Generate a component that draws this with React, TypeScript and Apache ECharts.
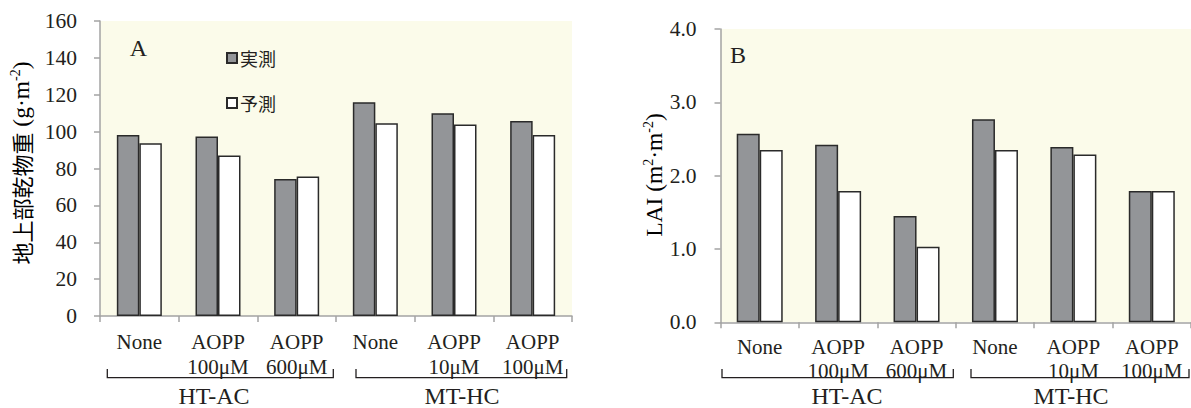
import { useEffect, useRef } from 'react';
import * as echarts from 'echarts';

const categories = ['None', 'AOPP\n100μM', 'AOPP\n600μM', 'None', 'AOPP\n10μM', 'AOPP\n100μM'];
const groupLabels = ['HT-AC', 'MT-HC'];
const seriesNames = ['実測', '予測'];
const dryMatterMeasured = [98.2, 97.3, 74.3, 115.9, 109.9, 105.8];
const dryMatterPredicted = [93.7, 87.1, 75.6, 104.5, 103.9, 98.2];
const laiMeasured = [2.57, 2.42, 1.45, 2.77, 2.39, 1.79];
const laiPredicted = [2.35, 1.79, 1.03, 2.35, 2.29, 1.79];

const SERIF = 'Liberation Serif';
const CJK = 'Noto Sans CJK JP';
const TXT = '#231f20';
const AXIS = '#a3a3a3';
const BG = '#fbfbea';
const GRAY = '#939598';
const EDGE = '#2a2a2a';

const titleRich = {
  c: { fontFamily: CJK, fontSize: 22, lineHeight: 26, color: TXT },
  l: { fontFamily: SERIF, fontSize: 23.5, lineHeight: 26, color: TXT },
  s: { fontFamily: SERIF, fontSize: 14, lineHeight: 15, verticalAlign: 'top', color: TXT },
};

function bracket(x1: number, x2: number) {
  return {
    type: 'polyline',
    shape: { points: [[x1, 369], [x1, 377.7], [x2, 377.7], [x2, 369]] },
    style: { stroke: TXT, lineWidth: 1.3, fill: null },
    silent: true,
  };
}

function label(text: string, x: number, y: number, size = 23) {
  return {
    type: 'text',
    x,
    y,
    style: { text, fontFamily: SERIF, fontSize: size, fill: TXT, align: 'center', verticalAlign: 'middle' },
    silent: true,
  };
}

function xAxisDef(gridIndex: number, margin: number, lineHeight: number) {
  return {
    type: 'category',
    gridIndex,
    data: categories,
    axisLine: { lineStyle: { color: AXIS, width: 1.5 } },
    axisTick: { show: true, length: 6, lineStyle: { color: AXIS, width: 1.5 } },
    axisLabel: { color: TXT, fontFamily: SERIF, fontSize: 21, lineHeight, margin, interval: 0 },
    splitLine: { show: false },
  };
}

function yAxisDef(gridIndex: number, min: number, max: number, interval: number, margin: number, decimals: number) {
  return {
    type: 'value',
    gridIndex,
    min,
    max,
    interval,
    axisLine: { show: true, lineStyle: { color: AXIS, width: 1.5 } },
    axisTick: { show: true, length: 6, lineStyle: { color: AXIS, width: 1.5 } },
    splitLine: { show: false },
    axisLabel: {
      show: true,
      color: TXT,
      fontFamily: SERIF,
      fontSize: 21.5,
      margin,
      formatter: (v: number) => v.toFixed(decimals),
    },
  };
}

export default function App() {
  const ref = useRef<HTMLDivElement>(null);
  useEffect(() => {
    if (!ref.current) return;
    const chart = echarts.init(ref.current, undefined, { renderer: 'svg' });
    const barStyle = (fill: string) => ({ color: fill, borderColor: EDGE, borderWidth: 1.5 });
    chart.setOption({
      animation: false,
      backgroundColor: '#ffffff',
      grid: [
        { left: 100, top: 21, width: 472, height: 295, show: true, backgroundColor: BG, borderWidth: 0 },
        { left: 720.5, top: 29, width: 473.5, height: 293.3, show: true, backgroundColor: BG, borderWidth: 0 },
      ],
      legend: {
        data: seriesNames,
        orient: 'vertical',
        left: 221,
        top: 43,
        itemWidth: 10,
        itemHeight: 10,
        itemGap: 25,
        icon: 'rect',
        textStyle: { fontFamily: CJK, fontSize: 18, lineHeight: 20, color: TXT, padding: [0, 0, 0, -2] },
      },
      xAxis: [xAxisDef(0, 13, 25.6), xAxisDef(1, 12.5, 24)],
      yAxis: [yAxisDef(0, 0, 160, 20, 23, 0), yAxisDef(1, 0, 4, 1, 24, 1)],
      series: [
        { name: seriesNames[0], type: 'bar', xAxisIndex: 0, yAxisIndex: 0, data: dryMatterMeasured, barWidth: 22.5, barGap: '0%', itemStyle: barStyle(GRAY) },
        { name: seriesNames[1], type: 'bar', xAxisIndex: 0, yAxisIndex: 0, data: dryMatterPredicted, barWidth: 22.5, barGap: '0%', itemStyle: barStyle('#ffffff') },
        { name: seriesNames[0], type: 'bar', xAxisIndex: 1, yAxisIndex: 1, data: laiMeasured, barWidth: 23, barGap: '0%', itemStyle: barStyle(GRAY) },
        { name: seriesNames[1], type: 'bar', xAxisIndex: 1, yAxisIndex: 1, data: laiPredicted, barWidth: 23, barGap: '0%', itemStyle: barStyle('#ffffff') },
      ],
      graphic: [
        label('A', 138.5, 48, 24),
        label('B', 738, 55, 24),
        bracket(107.3, 333.3),
        bracket(356, 566.7),
        bracket(722, 953.3),
        bracket(971, 1189),
        label(groupLabels[0], 214, 396, 24),
        label(groupLabels[1], 462, 396, 24),
        label(groupLabels[0], 847, 396, 24),
        label(groupLabels[1], 1071, 396, 24),
        {
          type: 'text',
          x: 21,
          y: 163,
          rotation: Math.PI / 2,
          style: { text: '{c|地上部乾物重}{l| (g·m}{s|-2}{l|)}', rich: titleRich, align: 'center', verticalAlign: 'middle' },
          silent: true,
        },
        {
          type: 'text',
          x: 654,
          y: 175,
          rotation: Math.PI / 2,
          style: { text: '{l|LAI (m}{s|2}{l|·m}{s|-2}{l|)}', rich: titleRich, align: 'center', verticalAlign: 'middle' },
          silent: true,
        },
      ],
    });
    return () => chart.dispose();
  }, []);
  return <div ref={ref} style={{ position: 'fixed', left: 0, top: 0, width: 1191, height: 408 }} />;
}
